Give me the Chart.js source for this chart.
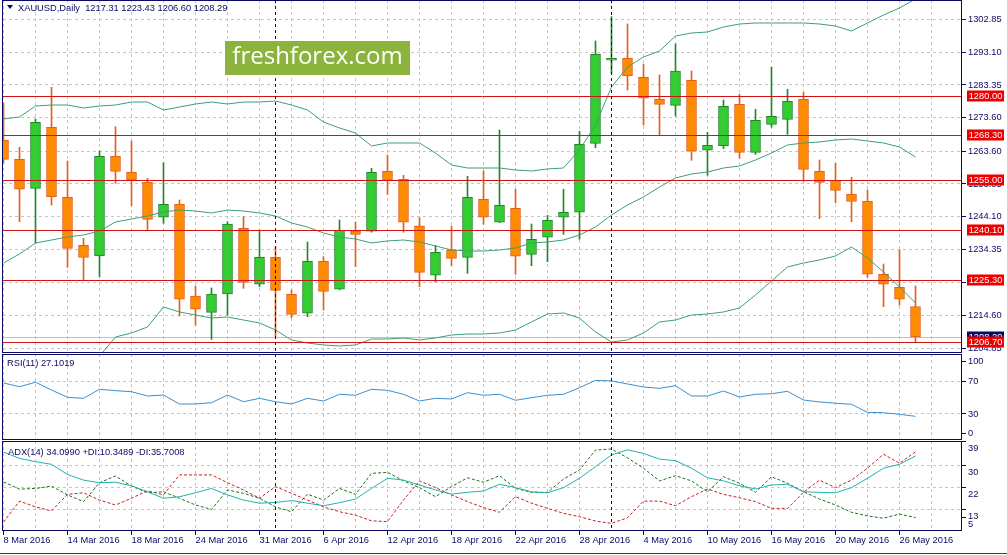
<!DOCTYPE html>
<html>
<head>
<meta charset="utf-8">
<title>XAUUSD Daily</title>
<script src="https://cdn.jsdelivr.net/npm/chart.js@4.4.1/dist/chart.umd.min.js"></script>
<style>
  html, body { margin: 0; padding: 0; background: #fff; }
  #wrap { position: relative; width: 1007px; height: 555px; overflow: hidden; background: #fff; }
  #wrap canvas { position: absolute; left: 0; }
  #mainChart { top: 0; }
  #rsiChart { top: 354px; }
  #adxChart { top: 441px; }
  #bottomLine { position: absolute; left: 0; top: 553px; width: 1007px; height: 1px; background: #3c3c3c; }
</style>
</head>
<body>
<div id="wrap">
  <canvas id="mainChart" width="1007" height="354"></canvas>
  <canvas id="rsiChart" width="1007" height="87"></canvas>
  <canvas id="adxChart" width="1007" height="114"></canvas>
  <div id="bottomLine"></div>
</div>
<script>
// daily bars, 8 Mar - 27 May 2016
const dates = ['8 Mar 2016','9 Mar 2016','10 Mar 2016','11 Mar 2016','14 Mar 2016','15 Mar 2016','16 Mar 2016','17 Mar 2016','18 Mar 2016','21 Mar 2016',
  '22 Mar 2016','23 Mar 2016','24 Mar 2016','28 Mar 2016','29 Mar 2016','30 Mar 2016','31 Mar 2016','1 Apr 2016','4 Apr 2016','5 Apr 2016',
  '6 Apr 2016','7 Apr 2016','8 Apr 2016','11 Apr 2016','12 Apr 2016','13 Apr 2016','14 Apr 2016','15 Apr 2016','18 Apr 2016','19 Apr 2016',
  '20 Apr 2016','21 Apr 2016','22 Apr 2016','25 Apr 2016','26 Apr 2016','27 Apr 2016','28 Apr 2016','29 Apr 2016','2 May 2016','3 May 2016',
  '4 May 2016','5 May 2016','6 May 2016','9 May 2016','10 May 2016','11 May 2016','12 May 2016','13 May 2016','16 May 2016','17 May 2016',
  '18 May 2016','19 May 2016','20 May 2016','23 May 2016','24 May 2016','25 May 2016','26 May 2016','27 May 2016'];

const open = [1266.95, 1261.20, 1252.56, 1270.74, 1249.88, 1235.58, 1232.40, 1262.10, 1257.33, 1254.35,
  1243.93, 1247.80, 1220.48, 1215.62, 1221.08, 1240.65, 1223.97, 1232.01, 1220.99, 1215.33,
  1230.82, 1222.48, 1239.93, 1239.76, 1257.63, 1255.25, 1241.42, 1226.65, 1234.27, 1232.01,
  1249.29, 1242.44, 1246.61, 1232.90, 1237.97, 1243.93, 1245.42, 1265.97, 1290.70, 1291.29,
  1285.63, 1279.08, 1277.29, 1284.74, 1263.89, 1265.26, 1277.59, 1263.29, 1271.63, 1273.12,
  1279.08, 1257.63, 1254.95, 1250.78, 1248.69, 1226.95, 1223.07, 1217.31];
const high = [1277.98, 1264.78, 1273.21, 1282.65, 1260.70, 1237.67, 1263.68, 1270.92, 1266.65, 1255.54,
  1260.19, 1249.08, 1223.46, 1222.86, 1242.62, 1244.10, 1240.14, 1235.17, 1222.27, 1236.57,
  1232.19, 1243.12, 1242.53, 1258.52, 1262.49, 1256.44, 1243.81, 1235.58, 1241.33, 1256.14,
  1257.72, 1269.93, 1252.27, 1241.93, 1244.52, 1252.27, 1269.55, 1296.45, 1303.68, 1301.51,
  1289.59, 1286.32, 1295.55, 1287.51, 1269.25, 1278.87, 1280.57, 1276.10, 1288.61, 1282.06,
  1281.16, 1261.00, 1260.01, 1255.84, 1252.06, 1230.01, 1234.18, 1223.43];
const low = [1260.10, 1242.62, 1236.18, 1247.59, 1229.03, 1225.25, 1226.23, 1254.05, 1247.38, 1240.14,
  1242.14, 1214.52, 1211.84, 1207.58, 1214.82, 1222.77, 1223.25, 1208.36, 1214.02, 1214.32,
  1216.31, 1222.30, 1229.21, 1239.50, 1250.78, 1239.46, 1223.25, 1224.74, 1229.51, 1227.24,
  1241.84, 1242.30, 1226.95, 1229.51, 1230.70, 1238.86, 1237.37, 1264.66, 1286.82, 1281.85,
  1271.42, 1268.44, 1274.10, 1260.91, 1256.44, 1264.36, 1261.50, 1262.69, 1270.74, 1268.65,
  1254.65, 1243.51, 1248.28, 1242.62, 1226.05, 1217.29, 1217.80, 1206.60];
const close = [1261.20, 1252.27, 1272.23, 1250.06, 1234.69, 1232.01, 1262.10, 1257.63, 1255.04, 1243.33,
  1247.80, 1219.50, 1216.52, 1221.08, 1241.93, 1224.56, 1232.01, 1222.18, 1215.03, 1230.82,
  1221.88, 1240.05, 1238.86, 1257.33, 1254.95, 1242.44, 1227.54, 1233.50, 1231.71, 1249.88,
  1243.93, 1247.50, 1232.31, 1237.37, 1243.03, 1245.42, 1265.67, 1292.48, 1291.29, 1286.11,
  1279.38, 1277.59, 1287.51, 1263.59, 1265.37, 1276.99, 1263.29, 1272.82, 1274.01, 1278.48,
  1258.22, 1254.35, 1251.97, 1248.69, 1226.95, 1223.97, 1219.50, 1208.29];

// bollinger bands
const bbUpper = [1273.21, 1273.81, 1277.08, 1277.38, 1277.38, 1276.49, 1277.08, 1277.38, 1278.27, 1278.27,
  1275.89, 1276.78, 1277.68, 1278.27, 1277.68, 1278.27, 1278.27, 1278.57, 1277.38, 1275.89,
  1272.32, 1270.53, 1269.04, 1265.17, 1266.06, 1266.06, 1266.06, 1263.08, 1259.51, 1258.61,
  1258.61, 1258.61, 1258.02, 1257.72, 1258.32, 1258.61, 1263.98, 1271.42, 1282.74, 1288.70,
  1291.68, 1293.47, 1297.93, 1298.83, 1299.13, 1300.62, 1301.51, 1301.81, 1301.81, 1301.81,
  1301.81, 1301.51, 1300.91, 1299.42, 1301.81, 1304.19, 1306.28, 1309.00];
const bbMiddle = [1230.31, 1232.99, 1236.27, 1237.16, 1238.06, 1238.65, 1239.85, 1242.53, 1243.42, 1244.31,
  1245.51, 1246.10, 1245.80, 1245.21, 1246.10, 1245.80, 1245.21, 1244.31, 1242.23, 1241.04,
  1239.25, 1238.06, 1237.46, 1236.27, 1236.87, 1237.16, 1236.57, 1235.38, 1234.19, 1233.89,
  1233.89, 1234.19, 1234.78, 1236.27, 1236.57, 1237.16, 1238.65, 1241.04, 1244.61, 1247.59,
  1249.97, 1252.95, 1255.63, 1256.83, 1257.42, 1258.61, 1259.21, 1261.00, 1263.08, 1265.46,
  1266.06, 1266.36, 1266.95, 1267.25, 1266.66, 1266.06, 1264.87, 1261.89];
const bbLower = [1187.42, 1192.18, 1195.46, 1196.95, 1198.74, 1200.82, 1202.61, 1208.27, 1209.46, 1211.25,
  1217.21, 1215.72, 1214.82, 1213.93, 1214.23, 1213.33, 1212.44, 1210.36, 1207.38, 1206.48,
  1205.89, 1205.59, 1205.89, 1207.67, 1207.67, 1207.97, 1207.38, 1207.97, 1208.86, 1209.16,
  1209.16, 1209.46, 1210.36, 1212.74, 1215.12, 1215.42, 1213.93, 1209.76, 1206.78, 1207.38,
  1209.46, 1212.74, 1213.33, 1214.82, 1215.12, 1215.72, 1216.91, 1220.78, 1224.95, 1229.12,
  1230.31, 1231.21, 1232.40, 1235.08, 1231.80, 1227.63, 1223.16, 1218.40];

const rsi = [68.4, 63.8, 69.3, 59.7, 50.7, 49.4, 60.6, 58.9, 57.6, 52.3,
  53.5, 42.4, 42.4, 44.0, 53.5, 45.2, 49.4, 45.2, 42.4, 49.4,
  46.1, 54.4, 53.2, 60.6, 59.3, 54.4, 46.1, 49.4, 48.6, 56.4,
  53.2, 54.4, 47.0, 50.2, 53.2, 54.4, 62.6, 71.7, 70.9, 67.2,
  63.4, 61.8, 65.0, 52.3, 52.3, 58.5, 51.1, 54.4, 55.1, 58.1,
  47.3, 44.9, 43.3, 42.0, 32.1, 31.6, 29.6, 27.1019];

const adx = [35.6, 33.2, 31.9, 30.9, 27.0, 24.8, 23.8, 24.0, 22.6, 20.3,
  17.8, 18.4, 19.9, 21.6, 19.1, 17.1, 15.9, 16.2, 16.9, 15.9,
  14.9, 16.1, 17.5, 21.6, 25.5, 24.8, 22.9, 21.0, 19.4, 20.1,
  20.6, 23.2, 21.9, 20.3, 19.9, 21.9, 25.5, 30.0, 34.5, 36.5,
  35.1, 32.9, 32.3, 29.4, 25.7, 24.5, 22.6, 21.4, 22.9, 23.2,
  20.3, 20.1, 19.9, 21.9, 25.5, 29.4, 30.9, 34.0990];
const plusDI = [24.1, 21.3, 21.6, 22.5, 19.1, 16.5, 23.8, 26.4, 22.5, 19.9,
  20.3, 17.8, 15.2, 13.5, 21.0, 19.7, 17.8, 14.5, 12.6, 19.4,
  17.1, 21.6, 19.3, 27.4, 27.8, 24.5, 21.9, 18.4, 22.3, 25.7,
  24.0, 26.5, 21.6, 20.1, 20.1, 25.2, 28.7, 36.4, 36.8, 33.4,
  29.4, 24.5, 26.5, 24.5, 20.3, 26.1, 23.6, 20.1, 26.1, 23.6,
  20.3, 17.5, 15.2, 12.4, 11.0, 10.1, 11.7, 10.3489];
const minusDI = [8.6, 16.7, 14.5, 12.9, 19.3, 19.9, 17.1, 15.2, 17.8, 20.7,
  19.1, 26.8, 26.8, 26.8, 23.8, 21.0, 17.8, 22.3, 19.7, 17.1,
  14.5, 12.6, 11.3, 9.1, 8.8, 17.1, 24.5, 21.9, 19.1, 16.5,
  14.2, 12.4, 18.4, 15.9, 13.9, 12.0, 10.7, 9.0, 8.1, 10.3,
  16.7, 16.7, 14.9, 18.4, 21.4, 19.3, 18.0, 16.5, 13.9, 13.9,
  20.1, 24.8, 21.9, 24.8, 29.4, 34.8, 31.3, 35.7008];

// price axis and horizontal levels
const priceTicks = [1302.85, 1293.10, 1283.35, 1273.60, 1263.60, 1253.85, 1244.10, 1234.35, 1224.60, 1214.60, 1204.85];
const levels = [1280.00, 1268.30, 1255.00, 1240.10, 1225.30, 1206.70];
const rsiTicks = [95.3, 70, 30, 5.6];
const rsiTickText = ['100', '70', '30', '0'];
const adxTicks = [39.89, 30.51, 21.87, 13.38, 10.57];
const adxTickText = ['39', '30', '22', '13', '5'];

const NAVY = '#0a0a64';
const GRID = '#c6c6c6';
const FONT = '"Liberation Sans", Arial, sans-serif';
const axisFont = { family: FONT, size: 9.3 };
const X_MIN = -1 / 32, X_MAX = X_MIN + 959 / 16;
const last = close.length - 1;
const bid = close[last];

const gridIdx = [];
for (let i = 0; i < X_MAX; i += 2) gridIdx.push(i);
const monthStarts = dates.map((d, i) => (i > 0 && d.split(' ')[1] !== dates[i - 1].split(' ')[1]) ? i : -1).filter(i => i >= 0);

Chart.defaults.font.family = FONT;

function xAxis(withLabels) {
  return {
    type: 'linear', min: X_MIN, max: X_MAX, offset: false,
    afterBuildTicks: s => { s.ticks = gridIdx.map(v => ({ value: v })); },
    afterFit: s => { s.height = withLabels ? 24 : 0; s.paddingLeft = 0; s.paddingRight = 0; },
    grid: {
      color: GRID, offset: false, drawTicks: withLabels, tickLength: 4,
      tickColor: c => (c.tick && c.tick.value % 4 === 0) ? NAVY : 'rgba(0,0,0,0)'
    },
    border: { display: false, dash: [3, 3] },
    ticks: {
      display: withLabels, autoSkip: false, maxRotation: 0, minRotation: 0, align: 'start',
      padding: 0, color: NAVY, font: axisFont,
      callback: v => (v % 4 === 0 && dates[v]) ? dates[v] : ''
    }
  };
}

function yAxis(min, max, ticks, text, gridOn, labelOffset) {
  return {
    position: 'right', min: min, max: max,
    afterBuildTicks: s => { s.ticks = ticks.map(v => ({ value: v })); },
    afterFit: s => { s.width = 45; s.paddingTop = 0; s.paddingBottom = 0; },
    grid: {
      color: c => gridOn(c.index) ? GRID : 'rgba(0,0,0,0)',
      drawTicks: true, tickLength: 4, tickColor: NAVY
    },
    border: { display: false, dash: [3, 3] },
    ticks: { color: NAVY, font: axisFont, padding: 2, labelOffset: labelOffset, callback: (v, i) => text(v, i) }
  };
}

function drawFrame(ctx, a) {
  ctx.save();
  ctx.strokeStyle = NAVY;
  ctx.lineWidth = 1;
  ctx.strokeRect(a.left - 0.5, a.top + 0.5, a.right - a.left, a.bottom - a.top - 1);
  ctx.restore();
}

function drawSeparators(chart) {
  const { ctx, chartArea: a, scales: { x } } = chart;
  ctx.save();
  ctx.strokeStyle = '#10104a';
  ctx.lineWidth = 1;
  ctx.setLineDash([3, 3]);
  monthStarts.forEach(i => {
    const px = Math.floor(x.getPixelForValue(i)) + 0.5;
    ctx.beginPath(); ctx.moveTo(px, a.top); ctx.lineTo(px, a.bottom); ctx.stroke();
  });
  ctx.restore();
}

function panelText(ctx, text, x, y) {
  ctx.save();
  ctx.font = '9.3px ' + FONT;
  ctx.fillStyle = NAVY;
  ctx.textBaseline = 'middle';
  ctx.fillText(text, x, y);
  ctx.restore();
}

function priceBox(ctx, y, text, fill) {
  ctx.save();
  ctx.fillStyle = fill;
  ctx.fillRect(967, y - 5.5, 37, 11);
  ctx.font = '9.3px ' + FONT;
  ctx.fillStyle = '#ffffff';
  ctx.textAlign = 'center';
  ctx.textBaseline = 'middle';
  ctx.fillText(text, 985.5, y + 0.5);
  ctx.restore();
}

const mainDecor = {
  id: 'mainDecor',
  beforeDatasetsDraw(chart) {
    const { ctx, chartArea: a, scales: { y } } = chart;
    const yb = Math.round(y.getPixelForValue(bid)) + 0.5;
    ctx.save();
    ctx.strokeStyle = '#c0c0c0';
    ctx.lineWidth = 1;
    ctx.beginPath(); ctx.moveTo(a.left, yb); ctx.lineTo(a.right, yb); ctx.stroke();
    ctx.restore();
  },
  afterDatasetsDraw(chart) {
    const { ctx, chartArea: a, scales: { y } } = chart;
    ctx.save();
    ctx.strokeStyle = '#d01414';
    ctx.lineWidth = 1;
    levels.forEach(v => {
      const py = Math.round(y.getPixelForValue(v)) + 0.5;
      ctx.beginPath(); ctx.moveTo(a.left, py); ctx.lineTo(a.right, py); ctx.stroke();
    });
    ctx.restore();
    drawSeparators(chart);
    drawFrame(ctx, a);
  },
  afterDraw(chart) {
    const { ctx, scales: { y } } = chart;
    priceBox(ctx, Math.round(y.getPixelForValue(bid)), bid.toFixed(2), '#0a0a64');
    levels.forEach(v => priceBox(ctx, Math.round(y.getPixelForValue(v)), v.toFixed(2), '#ec0000'));

    // watermark
    ctx.save();
    ctx.fillStyle = '#8cb43c';
    ctx.fillRect(225, 41, 185, 34);
    ctx.font = '24px "Open Sans", sans-serif';
    ctx.fillStyle = '#ffffff';
    ctx.textAlign = 'center';
    ctx.textBaseline = 'middle';
    ctx.fillText('freshforex.com', 317.5, 57);
    ctx.restore();

    // symbol header
    ctx.save();
    ctx.fillStyle = NAVY;
    ctx.beginPath(); ctx.moveTo(7, 5); ctx.lineTo(13, 5); ctx.lineTo(10, 9); ctx.closePath(); ctx.fill();
    ctx.restore();
    panelText(ctx, 'XAUUSD,Daily  ' + [open[last], high[last], low[last], close[last]].map(v => v.toFixed(2)).join(' '), 18, 8);
  }
};

const rsiDecor = {
  id: 'rsiDecor',
  afterDatasetsDraw(chart) { drawSeparators(chart); drawFrame(chart.ctx, chart.chartArea); },
  afterDraw(chart) { panelText(chart.ctx, 'RSI(11) ' + rsi[last].toFixed(4), 7, 9.5); }
};

const adxDecor = {
  id: 'adxDecor',
  afterDatasetsDraw(chart) { drawSeparators(chart); drawFrame(chart.ctx, chart.chartArea); },
  afterDraw(chart) {
    panelText(chart.ctx, 'ADX(14) ' + adx[last].toFixed(4) + ' +DI:' + plusDI[last].toFixed(4) + ' -DI:' + minusDI[last].toFixed(4), 8, 11);
  }
};

function lineSet(values, color, dash) {
  return {
    type: 'line', data: values.map((v, i) => ({ x: i, y: v })),
    borderColor: color, borderWidth: 1, borderDash: dash || [], pointRadius: 0,
    fill: false, tension: 0, order: 0
  };
}

const bull = close.map((c, i) => c >= open[i]);
const bodies = dates.map((d, i) => ({ x: i, y: [open[i], close[i]] }));
const wicks = dates.map((d, i) => ({ x: i, y: [low[i], high[i]] }));
const BB = '#3d9f74';

const common = {
  responsive: false, animation: false, events: [],
  plugins: { legend: { display: false }, tooltip: { enabled: false } }
};

new Chart(document.getElementById('mainChart'), {
  type: 'bar',
  data: {
    datasets: [
      lineSet(bbUpper, BB), lineSet(bbMiddle, BB), lineSet(bbLower, BB),
      {
        type: 'bar', data: bodies, grouped: false, order: 1,
        backgroundColor: bull.map(b => b ? '#33cc33' : '#ff8c00'),
        borderColor: bull.map(b => b ? '#23862a' : '#e2601c'),
        borderWidth: 1, borderSkipped: false, barThickness: 10
      },
      {
        type: 'bar', data: wicks, grouped: false, order: 2,
        backgroundColor: bull.map(b => b ? '#23862a' : '#e2601c'),
        borderWidth: 0, barThickness: 1
      }
    ]
  },
  options: Object.assign({}, common, {
    layout: { padding: { left: 3, right: 0, top: 0, bottom: 1 } },
    scales: {
      x: xAxis(false),
      y: yAxis(1203.5, 1308.66, priceTicks, v => v.toFixed(2), () => true, 0)
    }
  }),
  plugins: [mainDecor]
});

new Chart(document.getElementById('rsiChart'), {
  type: 'line',
  data: { datasets: [lineSet(rsi, '#3b8fd0')] },
  options: Object.assign({}, common, {
    layout: { padding: { left: 3, right: 0, top: 0, bottom: 1 } },
    scales: {
      x: xAxis(false),
      y: yAxis(-2.2, 104.3, rsiTicks, (v, i) => rsiTickText[i], i => i === 1 || i === 2, 0)
    }
  }),
  plugins: [rsiDecor]
});

new Chart(document.getElementById('adxChart'), {
  type: 'line',
  data: {
    datasets: [
      lineSet(adx, '#20b2aa'),
      lineSet(plusDI, '#1d6e1d', [3, 2]),
      lineSet(minusDI, '#c42020', [3, 2])
    ]
  },
  options: Object.assign({}, common, {
    layout: { padding: { left: 3, right: 0, top: 0, bottom: 0 } },
    scales: {
      x: xAxis(true),
      y: yAxis(5.17, 39.89, adxTicks, (v, i) => adxTickText[i], i => i >= 1 && i <= 3, 7)
    }
  }),
  plugins: [adxDecor]
});
</script>
</body>
</html>
